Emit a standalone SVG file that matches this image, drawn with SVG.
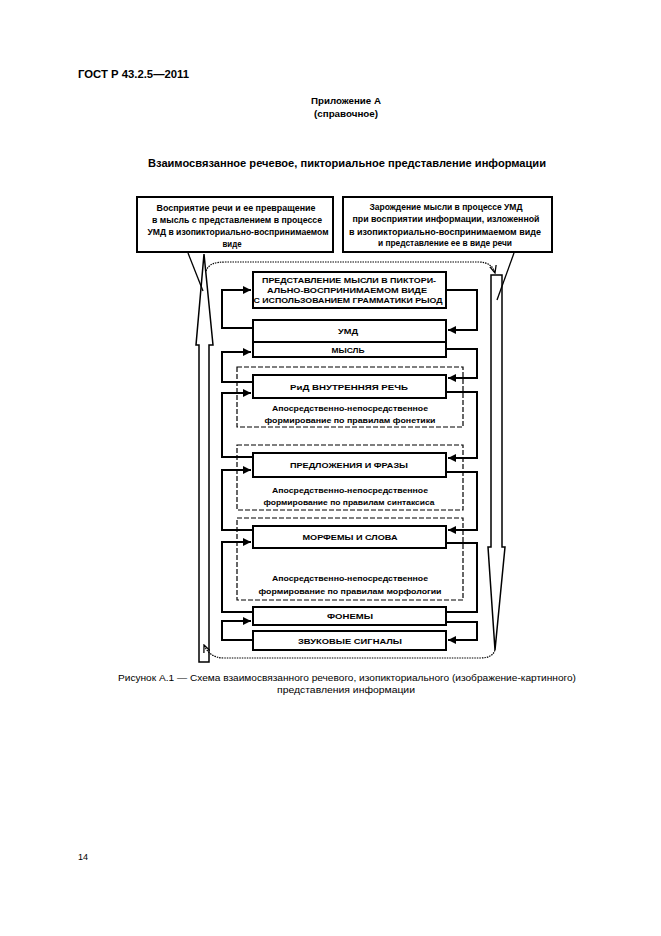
<svg xmlns="http://www.w3.org/2000/svg" width="661" height="936" viewBox="0 0 661 936">
<defs>
<style>
.t{font-family:"Liberation Sans",Arial,sans-serif;fill:#000}
.b{font-weight:bold}
.box{fill:#fff;stroke:#000;stroke-width:2}
.dash{fill:none;stroke:#000;stroke-width:1.2;stroke-dasharray:5 2}
.con{fill:none;stroke:#000;stroke-width:2}
.dot{fill:none;stroke:#000;stroke-width:1.2;stroke-dasharray:1.5 1}
.big{fill:#fff;stroke:#000;stroke-width:1.5}
.ptr{stroke:#000;stroke-width:1.3}
.bx{font-size:8px;font-weight:bold;text-anchor:middle}
.cl{font-size:8.5px;font-weight:bold;text-anchor:middle}
</style>
<marker id="ar" viewBox="0 0 8 8" refX="8" refY="4" markerWidth="4" markerHeight="4" orient="auto" markerUnits="strokeWidth">
<path d="M0,0 L8,4 L0,8 z" fill="#000"/>
</marker>
<marker id="ard" viewBox="0 0 10 10" refX="9" refY="5" markerWidth="7" markerHeight="7" orient="auto" markerUnits="strokeWidth">
<path d="M0,1 L9,5 L0,9" fill="none" stroke="#000" stroke-width="1.5"/>
</marker>
</defs>
<rect width="661" height="936" fill="#fff"/>

<g id="header">
<text class="t b" x="78" y="78" font-size="10" textLength="111" lengthAdjust="spacingAndGlyphs">ГОСТ Р 43.2.5—2011</text>
<text class="t b" x="346" y="104" font-size="8.5" text-anchor="middle" textLength="70" lengthAdjust="spacingAndGlyphs">Приложение А</text>
<text class="t b" x="346" y="117" font-size="8.5" text-anchor="middle" textLength="64" lengthAdjust="spacingAndGlyphs">(справочное)</text>
<text class="t b" x="347" y="167" font-size="10.5" text-anchor="middle" textLength="398" lengthAdjust="spacingAndGlyphs">Взаимосвязанное речевое, пикториальное представление информации</text>
</g>

<g id="big-arrows">
<polygon class="big" points="204,254 213,345 209,345 209,662 199,662 199,345 196,345"/>
<polygon class="big" points="491,275 502,275 502,547 505,547 495,650 488,547 491,547"/>
</g>

<g id="callout-left">
<rect class="box" x="137" y="197" width="196" height="55"/>
<text class="t cl" x="236" y="211" textLength="159" lengthAdjust="spacingAndGlyphs">Восприятие речи и ее превращение</text>
<text class="t cl" x="237" y="223" textLength="170" lengthAdjust="spacingAndGlyphs">в мысль с представлением в процессе</text>
<text class="t cl" x="238" y="235" textLength="181" lengthAdjust="spacingAndGlyphs">УМД в изопикториально-воспринимаемом</text>
<text class="t cl" x="232" y="247" textLength="19" lengthAdjust="spacingAndGlyphs">виде</text>
<line class="ptr" x1="188" y1="253" x2="203" y2="291"/>
</g>

<g id="callout-right">
<rect class="box" x="343" y="197" width="209" height="55"/>
<text class="t cl" x="446" y="210" textLength="153" lengthAdjust="spacingAndGlyphs">Зарождение мысли в процессе УМД</text>
<text class="t cl" x="446" y="222" textLength="187" lengthAdjust="spacingAndGlyphs">при восприятии информации, изложенной</text>
<text class="t cl" x="445" y="235" textLength="192" lengthAdjust="spacingAndGlyphs">в изопикториально-воспринимаемом виде</text>
<text class="t cl" x="445" y="246" textLength="134" lengthAdjust="spacingAndGlyphs">и представление ее в виде речи</text>
<line class="ptr" x1="514" y1="253" x2="497" y2="300"/>
</g>

<g id="loop">
<path class="dot" d="M206,271 C209,264 214,262 226,262 L478,262 C488,262 493,266 495,273" marker-end="url(#ard)"/>
<path class="dot" d="M495,650 C493,656 488,658 480,658 L224,658 C213,658 207,652 204,645" marker-end="url(#ard)"/>
</g>

<g id="groups">
<rect class="dash" x="237" y="367" width="226" height="60"/>
<rect class="dash" x="237" y="445" width="226" height="65"/>
<rect class="dash" x="237" y="518" width="226" height="82"/>
</g>

<g id="connectors">
<path class="con" d="M253,328 H222 V290 H251" marker-end="url(#ar)"/>
<path class="con" d="M253,382 H222 V352 H251" marker-end="url(#ar)"/>
<path class="con" d="M253,457 H222 V393 H251" marker-end="url(#ar)"/>
<path class="con" d="M253,530 H222 V470 H251" marker-end="url(#ar)"/>
<path class="con" d="M253,612 H222 V542 H251" marker-end="url(#ar)"/>
<path class="con" d="M253,640 H222 V621 H251" marker-end="url(#ar)"/>
<path class="con" d="M446,290 H477 V330 H448" marker-end="url(#ar)"/>
<path class="con" d="M446,349 H477 V378 H448" marker-end="url(#ar)"/>
<path class="con" d="M446,392 H477 V458 H448" marker-end="url(#ar)"/>
<path class="con" d="M446,472 H477 V530 H448" marker-end="url(#ar)"/>
<path class="con" d="M446,543 H477 V612 H446"/>
<path class="con" d="M446,622 H477 V640 H448" marker-end="url(#ar)"/>
</g>

<g id="node-picto">
<rect class="box" x="253" y="272" width="193" height="36"/>
<text class="t bx" x="349" y="283" textLength="174" lengthAdjust="spacingAndGlyphs">ПРЕДСТАВЛЕНИЕ МЫСЛИ В ПИКТОРИ-</text>
<text class="t bx" x="347" y="293" textLength="160" lengthAdjust="spacingAndGlyphs">АЛЬНО-ВОСПРИНИМАЕМОМ ВИДЕ</text>
<text class="t bx" x="348" y="303" textLength="189" lengthAdjust="spacingAndGlyphs">С ИСПОЛЬЗОВАНИЕМ ГРАММАТИКИ РЫОД</text>
</g>
<g id="node-umd">
<rect class="box" x="253" y="320" width="193" height="22"/>
<text class="t bx" x="348" y="334" textLength="20" lengthAdjust="spacingAndGlyphs">УМД</text>
</g>
<g id="node-mysl">
<rect class="box" x="253" y="342" width="193" height="15"/>
<text class="t bx" x="348" y="353" textLength="33" lengthAdjust="spacingAndGlyphs">МЫСЛЬ</text>
</g>
<g id="node-rid">
<rect class="box" x="253" y="375" width="193" height="23"/>
<text class="t bx" x="349" y="390" textLength="118" lengthAdjust="spacingAndGlyphs">РиД ВНУТРЕННЯЯ РЕЧЬ</text>
<text class="t bx" x="350" y="411" font-weight="normal" textLength="156" lengthAdjust="spacingAndGlyphs">Апосредственно-непосредственное</text>
<text class="t bx" x="350" y="423" font-weight="normal" textLength="171" lengthAdjust="spacingAndGlyphs">формирование по правилам фонетики</text>
</g>
<g id="node-phrases">
<rect class="box" x="253" y="453" width="193" height="24"/>
<text class="t bx" x="349" y="468" textLength="118" lengthAdjust="spacingAndGlyphs">ПРЕДЛОЖЕНИЯ И ФРАЗЫ</text>
<text class="t bx" x="350" y="493" font-weight="normal" textLength="156" lengthAdjust="spacingAndGlyphs">Апосредственно-непосредственное</text>
<text class="t bx" x="349" y="505" font-weight="normal" textLength="171" lengthAdjust="spacingAndGlyphs">формирование по правилам синтаксиса</text>
</g>
<g id="node-morph">
<rect class="box" x="253" y="526" width="193" height="22"/>
<text class="t bx" x="350" y="540" textLength="95" lengthAdjust="spacingAndGlyphs">МОРФЕМЫ И СЛОВА</text>
<text class="t bx" x="350" y="581" font-weight="normal" textLength="156" lengthAdjust="spacingAndGlyphs">Апосредственно-непосредственное</text>
<text class="t bx" x="350" y="594" font-weight="normal" textLength="183" lengthAdjust="spacingAndGlyphs">формирование по правилам морфологии</text>
</g>
<g id="node-phonemes">
<rect class="box" x="253" y="607" width="193" height="18"/>
<text class="t bx" x="350" y="619" textLength="46" lengthAdjust="spacingAndGlyphs">ФОНЕМЫ</text>
</g>
<g id="node-sounds">
<rect class="box" x="253" y="631" width="193" height="19"/>
<text class="t bx" x="350" y="644" textLength="104" lengthAdjust="spacingAndGlyphs">ЗВУКОВЫЕ СИГНАЛЫ</text>
</g>

<g id="caption">
<text class="t" x="347" y="681" font-size="8.5" text-anchor="middle" textLength="458" lengthAdjust="spacingAndGlyphs">Рисунок  А.1 — Схема взаимосвязанного речевого, изопикториального (изображение-картинного)</text>
<text class="t" x="346" y="693" font-size="8.5" text-anchor="middle" textLength="138" lengthAdjust="spacingAndGlyphs">представления информации</text>
<text class="t" x="78" y="860" font-size="9">14</text>
</g>
</svg>
